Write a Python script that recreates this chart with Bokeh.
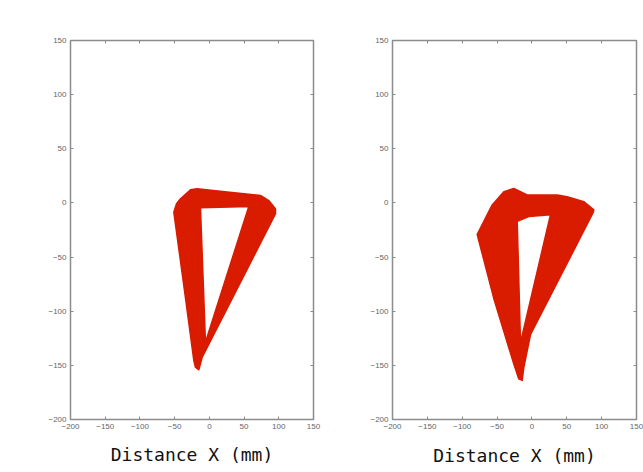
from bokeh.plotting import figure
from bokeh.layouts import row
from bokeh.models import LinearAxis, FixedTicker, Label
from bokeh.embed import file_html
from bokeh.resources import INLINE

# ---- data (mm) ----
ticks = [-200, -150, -100, -50, 0, 50, 100, 150]

# Left panel: outer boundary and inner hole of the traced band
left_outer_x = [-51.2, -47.3, -41.6, -27.2, -17.5, 25.7, 73.7, 85.6, 95.3, 95.3, -10.3, -15.2, -20.0, -22.4, -36.0]
left_outer_y = [-8.6, -0.8, 3.8, 12.1, 13.0, 10.0, 6.9, 2.2, -5.5, -10.0, -142.5, -154.1, -151.7, -145.5, -80.0]
left_inner_x = [-12.8, 56.8, -5.6]
left_inner_y = [-4.5, -3.3, -128.6]

# Right panel
right_outer_x = [-78.5, -66.6, -57.0, -40.3, -26.0, -6.8, 36.3, 50.6, 74.4, 88.8, 87.9, -2.0, -11.6, -14.0, -18.8, -26.0, -54.7]
right_outer_y = [-29.1, -13.9, -1.8, 10.3, 13.4, 7.3, 7.3, 5.7, 1.2, -6.4, -8.8, -121.5, -151.8, -163.9, -162.5, -148.8, -88.2]
right_inner_x = [-21.1, -4.5, 26.6, -16.4]
right_inner_y = [-17.0, -12.5, -10.9, -129.1]

RED = "#d91b00"
GRAY = "#8c8c8c"


def make_fig(w, h, bl, br, bt, bb, ox, oy, ix, iy, title_dx, title_dy, label_standoff):
    p = figure(width=w, height=h, x_range=(-200, 150), y_range=(-200, 150),
               output_backend="svg", toolbar_location=None,
               min_border_left=bl, min_border_right=br,
               min_border_top=bt, min_border_bottom=bb)
    p.grid.visible = False
    p.outline_line_color = GRAY
    p.outline_line_width = 1.5
    p.background_fill_color = "white"
    p.border_fill_color = "white"

    for ax in (p.xaxis[0], p.yaxis[0]):
        ax.ticker = FixedTicker(ticks=ticks)
        ax.axis_line_color = None
        ax.major_tick_in = 3
        ax.major_tick_out = 0
        ax.major_tick_line_color = GRAY
        ax.minor_tick_line_color = None
        ax.major_label_text_font = "Liberation Sans"
        ax.major_label_text_font_size = "8px"
        ax.major_label_text_color = "#666666"
        ax.major_label_standoff = 4

    xa = p.xaxis[0]
    xa.axis_label = "Distance X (mm)"
    xa.axis_label_text_font = "DejaVu Sans Mono"
    xa.axis_label_text_font_size = "18px"
    xa.axis_label_text_font_style = "normal"
    xa.axis_label_text_color = "#111111"
    xa.axis_label_standoff = label_standoff

    for loc in ("above", "right"):
        ax = LinearAxis(ticker=FixedTicker(ticks=ticks))
        ax.axis_line_color = None
        ax.major_tick_in = 3
        ax.major_tick_out = 0
        ax.major_tick_line_color = GRAY
        ax.minor_tick_line_color = None
        ax.major_label_text_font_size = "0px"
        ax.major_label_text_color = None
        ax.major_label_standoff = 0
        p.add_layout(ax, loc)

    # y-axis caption placed above the top-left corner of the frame
    ylab = Label(x=-200, y=150, x_units="data", y_units="data",
                 x_offset=title_dx, y_offset=title_dy,
                 text="Distance Y(mm)", text_font="DejaVu Sans Mono",
                 text_font_size="18px", text_color="#111111",
                 text_align="left", text_baseline="middle")
    p.add_layout(ylab)

    p.multi_polygons(xs=[[[ox, ix]]], ys=[[[oy, iy]]],
                     fill_color=RED, line_color=RED, line_width=1.5, line_join="round")
    return p


p1 = make_fig(333, 472, 70, 20, 40, 53,
              left_outer_x, left_outer_y, left_inner_x, left_inner_y, -62, 23, 12)
p2 = make_fig(310, 472, 59, 7, 38, 49,
              right_outer_x, right_outer_y, right_inner_x, right_inner_y, -47, 19, 13)

layout = row(p1, p2)
open("out.html", "w").write(file_html(layout, INLINE))
